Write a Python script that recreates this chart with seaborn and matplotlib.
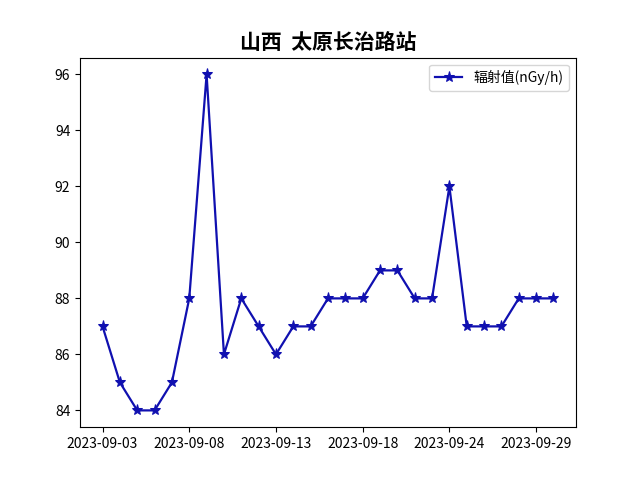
import matplotlib
matplotlib.use("Agg")
import matplotlib.pyplot as plt
import seaborn as sns
import pandas as pd

dates = ["2023-09-03", "2023-09-04", "2023-09-05", "2023-09-06", "2023-09-07",
         "2023-09-08", "2023-09-09", "2023-09-10", "2023-09-11", "2023-09-12",
         "2023-09-13", "2023-09-14", "2023-09-15", "2023-09-16", "2023-09-17",
         "2023-09-18", "2023-09-19", "2023-09-20", "2023-09-22", "2023-09-23",
         "2023-09-24", "2023-09-25", "2023-09-26", "2023-09-27", "2023-09-28",
         "2023-09-29", "2023-09-30"]
values = [87, 85, 84, 84, 85, 88, 96, 86, 88, 87, 86, 87, 87, 88, 88,
          88, 89, 89, 88, 88, 92, 87, 87, 87, 88, 88, 88]
title = "山西  太原长治路站"
series_name = "辐射值(nGy/h)"

plt.rcParams['font.family'] = ['Noto Sans CJK SC', 'DejaVu Sans']
plt.rcParams['axes.unicode_minus'] = False

df = pd.DataFrame({"idx": range(len(dates)), "date": dates, "value": values})

fig, ax = plt.subplots(figsize=(6.4, 4.8), dpi=100)
sns.lineplot(data=df, x="idx", y="value", marker="*", markersize=8,
             color="#1010b0", linewidth=1.6, markeredgecolor="#1010b0",
             label=series_name, ax=ax)
tick_pos = list(range(0, len(dates), 5))
ax.set_xticks(tick_pos)
ax.set_xticklabels([dates[i] for i in tick_pos], fontsize=10)
ax.tick_params(axis='y', labelsize=10)
ax.set_xlabel("")
ax.set_ylabel("")
ax.set_title(title, fontsize=15, fontweight="bold")
ax.legend(loc="upper right", fontsize=10)
fig.savefig("out.png", dpi=100)
